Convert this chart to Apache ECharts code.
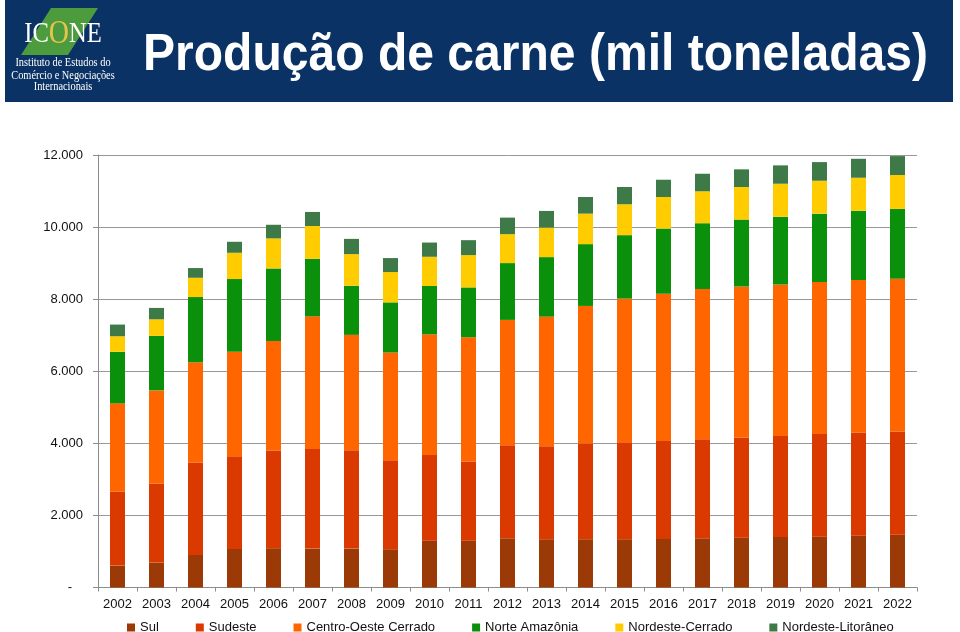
<!DOCTYPE html>
<html>
<head>
<meta charset="utf-8">
<script src="https://cdn.jsdelivr.net/npm/echarts@6/dist/echarts.min.js"></script>
<style>
html,body{margin:0;padding:0;background:#fff;}
#c{width:960px;height:632px;}
</style>
</head>
<body>
<div id="c"></div>
<script>
var years = ['2002','2003','2004','2005','2006','2007','2008','2009','2010','2011','2012','2013','2014','2015','2016','2017','2018','2019','2020','2021','2022'];
var seriesNames = ['Sul','Sudeste','Centro-Oeste Cerrado','Norte Amazônia','Nordeste-Cerrado','Nordeste-Litorâneo'];
var sul = [608,692,905,1071,1090,1079,1079,1062,1300,1300,1366,1339,1339,1339,1347,1366,1383,1402,1411,1438,1466];
var sudeste = [2048,2196,2553,2572,2711,2766,2730,2470,2379,2197,2581,2581,2655,2691,2719,2747,2777,2803,2849,2861,2860];
var centroOeste = [2453,2581,2794,2897,3039,3679,3201,2988,3347,3446,3478,3596,3818,3984,4086,4169,4194,4204,4216,4232,4241];
var norte = [1430,1513,1806,2018,2014,1596,1363,1391,1339,1383,1576,1651,1715,1762,1807,1826,1853,1881,1897,1925,1936];
var nordesteCerrado = [432,459,536,729,832,910,877,841,811,896,802,819,846,857,876,885,905,913,913,913,941];
var nordesteLitoraneo = [324,316,269,305,378,390,423,388,395,415,460,462,462,479,479,487,490,509,517,526,526];
var yTicks = ['-','2.000','4.000','6.000','8.000','10.000','12.000'];
var colors = ['#9b3a06','#da3a00','#ff6600','#0a900a','#ffcc00','#3e7a47'];

var values = [sul, sudeste, centroOeste, norte, nordesteCerrado, nordesteLitoraneo];
var font = '"Liberation Sans", Arial, Helvetica, sans-serif';
var serif = '"Liberation Serif", "Times New Roman", serif';

var chart = echarts.init(document.getElementById('c'), null, {renderer:'canvas'});
var series = seriesNames.map(function(n, i){
  return {name:n, type:'bar', stack:'total', data:values[i], barWidth:15,
          itemStyle:{color:colors[i]}, emphasis:{disabled:true}};
});

chart.setOption({
  animation:false,
  backgroundColor:'#ffffff',
  textStyle:{fontFamily:font},
  graphic:[
    {type:'rect', shape:{x:5,y:0,width:948,height:102}, style:{fill:'#0b3264'}, silent:true},
    {type:'polygon', shape:{points:[[51,8],[98,8],[68,55],[21,55]]}, style:{fill:'#4c9b3c'}, silent:true},
    {type:'text', x:63, y:34, scaleX:0.82, style:{text:'{w|IC}{o|O}{w|NE}', align:'center', verticalAlign:'middle',
      rich:{w:{fill:'#ffffff', fontFamily:serif, fontSize:30},
            o:{fill:'#e6c34c', fontFamily:serif, fontSize:34}}}, silent:true},
    {type:'text', x:63, y:63, scaleX:0.9, style:{text:'Instituto de Estudos do', align:'center', verticalAlign:'middle', fill:'#ffffff', fontFamily:serif, fontSize:11.5}, silent:true},
    {type:'text', x:63, y:75.5, scaleX:0.9, style:{text:'Comércio e Negociações', align:'center', verticalAlign:'middle', fill:'#ffffff', fontFamily:serif, fontSize:11.5}, silent:true},
    {type:'text', x:63, y:87, scaleX:0.9, style:{text:'Internacionais', align:'center', verticalAlign:'middle', fill:'#ffffff', fontFamily:serif, fontSize:11.5}, silent:true},
    {type:'text', x:143, y:56, scaleX:0.924, style:{text:'Produção de carne (mil toneladas)', align:'left', verticalAlign:'middle', fill:'#ffffff', fontFamily:font, fontWeight:'bold', fontSize:52}, silent:true}
  ],
  legend:{
    left:122, top:616, itemWidth:8, itemHeight:8, itemGap:37, icon:'rect',
    textStyle:{fontFamily:font, fontSize:13, color:'#111'},
    data:seriesNames
  },
  grid:{left:98, right:43, top:155, bottom:44.5, containLabel:false},
  xAxis:{
    type:'category', data:years,
    axisLine:{lineStyle:{color:'#8c8c8c', width:1}},
    axisTick:{show:true, length:4, lineStyle:{color:'#8c8c8c'}},
    axisLabel:{color:'#111', fontSize:13, fontFamily:font, margin:10, interval:0}
  },
  yAxis:{
    type:'value', min:0, max:12000, interval:2000,
    axisLine:{show:true, lineStyle:{color:'#8c8c8c'}},
    axisTick:{show:true, length:5, lineStyle:{color:'#8c8c8c'}},
    splitLine:{lineStyle:{color:'#999', width:1}},
    axisLabel:{color:'#111', fontSize:13, fontFamily:font, margin:15,
      formatter:function(v){ var s = yTicks[Math.round(v/2000)]; return s === '-' ? '-   ' : s; }}
  },
  series:series
});
</script>
</body>
</html>
